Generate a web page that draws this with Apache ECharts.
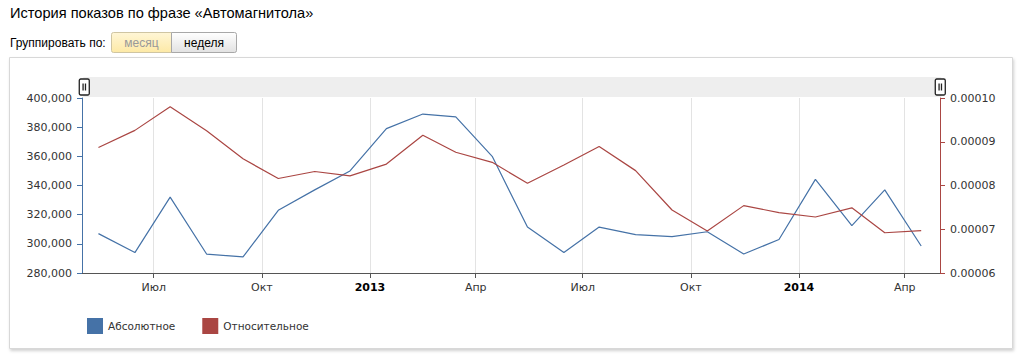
<!DOCTYPE html>
<html>
<head>
<meta charset="utf-8">
<script src="https://cdn.jsdelivr.net/npm/echarts@6/dist/echarts.min.js"></script>
<style>
html,body{margin:0;padding:0;background:#fff;}
#chart{width:1024px;height:360px;}
</style>
</head>
<body>
<div id="chart"></div>
<script>
// ---- data ----
const months = ['2012-05','2012-06','2012-07','2012-08','2012-09','2012-10','2012-11','2012-12',
  '2013-01','2013-02','2013-03','2013-04','2013-05','2013-06','2013-07','2013-08','2013-09','2013-10','2013-11','2013-12',
  '2014-01','2014-02','2014-03','2014-04'];
const absoluteValues = [307000, 294000, 332000, 293000, 291000, 323000, 337000, 350000,
  379000, 389000, 387000, 360000, 311500, 294000, 311500, 306300, 305000, 308300, 293000, 303000,
  344200, 312500, 337000, 298500];
const relativeValues = [0.0000887, 0.0000926, 0.0000980, 0.0000925, 0.0000861, 0.0000816, 0.0000832, 0.0000822,
  0.0000849, 0.0000915, 0.0000876, 0.0000853, 0.0000805, 0.0000847, 0.0000889, 0.0000834, 0.0000744, 0.0000696, 0.0000754, 0.0000738,
  0.0000728, 0.0000749, 0.0000692, 0.0000697];
const tickDates = ['2012-07','2012-10','2013-01','2013-04','2013-07','2013-10','2014-01','2014-04'];
const tickLabels = ['Июл','Окт','2013','Апр','Июл','Окт','2014','Апр'];
const axisStart = '2012-05';
const axisEnd = '2014-05';
const seriesNames = ['Абсолютное','Относительное'];
const titleText = 'История показов по фразе «Автомагнитола»';

// ---- helpers ----
function ts(ym, day) { const p = ym.split('-'); return Date.UTC(+p[0], +p[1] - 1, day || 1); }
const tickValues = tickDates.map(d => ts(d, 1));
const labelMap = {};
tickValues.forEach((v, i) => { labelMap[v] = tickLabels[i]; });
const absData = months.map((m, i) => [ts(m, 15), absoluteValues[i]]);
const relData = months.map((m, i) => [ts(m, 15), relativeValues[i]]);

const BLUE = '#4572A7', RED = '#AA4643';
const FONT = 'DejaVu Sans';

const chart = echarts.init(document.getElementById('chart'), null, {renderer: 'svg'});
chart.setOption({
  animation: false,
  backgroundColor: '#ffffff',
  graphic: [
    {type: 'rect', z: -10, shape: {x: 9.5, y: 57.5, width: 1003, height: 291},
      style: {fill: '#fff', stroke: '#d8d8d8', lineWidth: 1, shadowBlur: 3, shadowOffsetX: 1, shadowOffsetY: 2, shadowColor: 'rgba(0,0,0,0.18)'}},
    {type: 'text', x: 10, y: 13, style: {text: titleText, font: '14.6px "Liberation Sans", Arial', fill: '#000', verticalAlign: 'middle'}},
    {type: 'text', x: 10, y: 43, style: {text: 'Группировать по:', font: '12px "Liberation Sans", Arial', fill: '#000', verticalAlign: 'middle'}},
    {type: 'rect', shape: {x: 111.5, y: 32.5, width: 60, height: 20, r: [2, 0, 0, 2]},
      style: {fill: new echarts.graphic.LinearGradient(0, 0, 0, 1, [{offset: 0, color: '#fff6d6'}, {offset: 1, color: '#fde9a6'}]), stroke: '#cfc5a2', lineWidth: 1}},
    {type: 'text', x: 141.5, y: 43, style: {text: 'месяц', font: '12px "Liberation Sans", Arial', fill: '#999', align: 'center', verticalAlign: 'middle'}},
    {type: 'rect', shape: {x: 171.5, y: 32.5, width: 65, height: 20, r: [0, 2, 2, 0]},
      style: {fill: new echarts.graphic.LinearGradient(0, 0, 0, 1, [{offset: 0, color: '#ffffff'}, {offset: 1, color: '#e2e2e2'}]), stroke: '#a8a8a8', lineWidth: 1}},
    {type: 'text', x: 204, y: 43, style: {text: 'неделя', font: '12px "Liberation Sans", Arial', fill: '#000', align: 'center', verticalAlign: 'middle'}}
  ],
  grid: {left: 82, right: 84, top: 98, bottom: 87, containLabel: false},
  legend: {
    left: 82, top: 313, itemWidth: 16, itemHeight: 16, itemGap: 27, icon: 'rect',
    textStyle: {fontFamily: FONT, fontSize: 10.5, color: '#333'},
    data: seriesNames
  },
  dataZoom: [{
    type: 'slider', xAxisIndex: 0, filterMode: 'none', start: 0, end: 100,
    left: 82, right: 84, top: 77, height: 20,
    showDetail: false, showDataShadow: false, brushSelect: false,
    backgroundColor: '#eeeeee', borderColor: 'transparent', fillerColor: 'rgba(0,0,0,0)',
    dataBackground: {lineStyle: {opacity: 0}, areaStyle: {opacity: 0}},
    selectedDataBackground: {lineStyle: {opacity: 0}, areaStyle: {opacity: 0}},
    handleIcon: 'path://M1.5,0 H8.5 A1.5,1.5 0 0 1 10,1.5 V14.5 A1.5,1.5 0 0 1 8.5,16 H1.5 A1.5,1.5 0 0 1 0,14.5 V1.5 A1.5,1.5 0 0 1 1.5,0 Z M3.8,4.5 V11.5 M6.2,4.5 V11.5',
    handleSize: 16,
    handleStyle: {color: '#ffffff', borderColor: '#222', borderWidth: 1.3, shadowBlur: 0},
    moveHandleSize: 0,
    moveHandleStyle: {opacity: 0},
    emphasis: {handleStyle: {color: '#ffffff', borderColor: '#222'}, moveHandleStyle: {opacity: 0}}
  }],
  xAxis: {
    type: 'value', min: ts(axisStart, 1), max: ts(axisEnd, 1),
    axisLine: {lineStyle: {color: '#555', width: 1}},
    axisTick: {show: true, length: 5, customValues: tickValues, lineStyle: {color: '#555'}},
    axisLabel: {
      customValues: tickValues, margin: 9, fontFamily: FONT, fontSize: 11, color: '#333',
      formatter: v => { const t = labelMap[v] || ''; return /^\d{4}$/.test(t) ? '{y|' + t + '}' : t; },
      rich: {y: {fontFamily: FONT, fontSize: 11, fontWeight: 'bold', color: '#000'}}
    },
    splitLine: {show: true, customValues: tickValues, lineStyle: {color: '#e3e3e3', width: 1}}
  },
  yAxis: [
    {
      type: 'value', min: 280000, max: 400000, interval: 20000, position: 'left',
      axisLine: {show: true, lineStyle: {color: BLUE}},
      axisTick: {show: true, length: 5, lineStyle: {color: BLUE}},
      axisLabel: {margin: 10, fontFamily: FONT, fontSize: 11, color: '#333',
        formatter: v => v.toString().replace(/\B(?=(\d{3})+(?!\d))/g, ',')},
      splitLine: {show: false}
    },
    {
      type: 'value', min: 0.00006, max: 0.0001, interval: 0.00001, position: 'right',
      axisLine: {show: true, lineStyle: {color: RED}},
      axisTick: {show: true, length: 5, lineStyle: {color: RED}},
      axisLabel: {margin: 10, fontFamily: FONT, fontSize: 11, color: '#333',
        formatter: v => v.toFixed(5)},
      splitLine: {show: false}
    }
  ],
  series: [
    {name: seriesNames[0], type: 'line', yAxisIndex: 0, data: absData, showSymbol: false, symbol: 'none',
      lineStyle: {color: BLUE, width: 1.2}, itemStyle: {color: BLUE}},
    {name: seriesNames[1], type: 'line', yAxisIndex: 1, data: relData, showSymbol: false, symbol: 'none',
      lineStyle: {color: RED, width: 1.2}, itemStyle: {color: RED}}
  ]
});
</script>
</body>
</html>
